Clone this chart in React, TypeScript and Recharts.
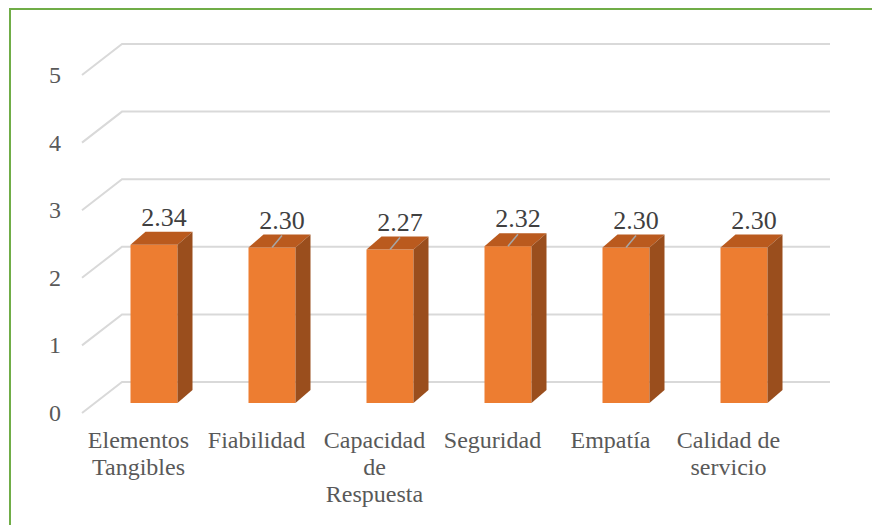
import { BarChart, Bar, XAxis, YAxis, CartesianGrid, LabelList } from 'recharts';

const categories = ['Elementos\nTangibles', 'Fiabilidad', 'Capacidad\nde\nRespuesta', 'Seguridad', 'Empatía', 'Calidad de\nservicio'];
const scores = [2.34, 2.30, 2.27, 2.32, 2.30, 2.30];
const yTicks = [0, 1, 2, 3, 4, 5];

const data = categories.map((name, i) => ({ name, value: scores[i] }));

const FONT = "'Liberation Serif', 'DejaVu Serif', serif";
const DX = 15;
const DY = 13;

const Box3D = (props: any) => {
  const { x, y, width, height } = props;
  return (
    <g>
      <rect x={x} y={y} width={width} height={height} fill="#ED7D31" />
      <polygon
        points={`${x},${y} ${x + DX},${y - DY} ${x + width + DX},${y - DY} ${x + width},${y}`}
        fill="#BA5A1E"
      />
      <polygon
        points={`${x + width},${y} ${x + width + DX},${y - DY} ${x + width + DX},${y + height - DY} ${x + width},${y + height}`}
        fill="#9A4E1D"
      />
    </g>
  );
};

// back wall + side wall gridline, drawn from the y scale position
const gridLine = (props: any) => {
  const { y1, index } = props;
  return (
    <path
      key={`g-${index}`}
      d={`M82,${y1 + 10} L122,${y1 - 21} L830,${y1 - 21}`}
      stroke="#D9D9D9"
      strokeWidth={2}
      fill="none"
    />
  );
};

const YTick = (props: any) => {
  const { y, payload } = props;
  return (
    <text x={61} y={y + 18} textAnchor="end" fill="#595959" style={{ fontSize: 24, fontFamily: FONT }}>
      {payload.value}
    </text>
  );
};

const XTick = (props: any) => {
  const { x, payload } = props;
  const lines = String(payload.value).split('\n');
  return (
    <text x={x - 15} y={448} textAnchor="middle" fill="#595959" style={{ fontSize: 24, fontFamily: FONT }}>
      {lines.map((l, i) => (
        <tspan key={i} x={x - 15} dy={i === 0 ? 0 : 27}>
          {l}
        </tspan>
      ))}
    </text>
  );
};

const ValueLabel = (props: any) => {
  const { x, y, width, value, index } = props;
  const cx = x + width / 2;
  const leader = index >= 1 && index <= 4;
  return (
    <g>
      {leader && <line x1={cx} y1={y} x2={cx + 10} y2={y - 12} stroke="#A6A6A6" strokeWidth={1.5} />}
      <text x={cx + 10} y={y - 19} textAnchor="middle" fill="#404040" style={{ fontSize: 26, fontFamily: FONT }}>
        {Number(value).toFixed(2)}
      </text>
    </g>
  );
};

export default function App() {
  return (
    <div style={{ position: 'absolute', left: 0, top: 0, width: 872, height: 525, background: '#fff', overflow: 'hidden', fontFamily: FONT }}>
      <div
        style={{
          position: 'absolute',
          left: 9,
          top: 8,
          width: 900,
          height: 600,
          border: '2px solid #70AD47',
          boxSizing: 'border-box',
        }}
      />
      <div style={{ position: 'absolute', left: 0, top: 0 }}>
        <BarChart
          width={872}
          height={525}
          data={data}
          margin={{ top: 65, left: 93.5, right: 69.5, bottom: 92 }}
          barCategoryGap={0}
        >
          <CartesianGrid vertical={false} horizontal={gridLine} />
          <XAxis dataKey="name" height={30} axisLine={false} tickLine={false} tick={<XTick />} interval={0} />
          <YAxis width={1} domain={[0, 5]} ticks={yTicks} axisLine={false} tickLine={false} tick={<YTick />} />
          <Bar dataKey="value" barSize={47} shape={<Box3D />} isAnimationActive={false}>
            <LabelList dataKey="value" content={<ValueLabel />} />
          </Bar>
        </BarChart>
      </div>
    </div>
  );
}
